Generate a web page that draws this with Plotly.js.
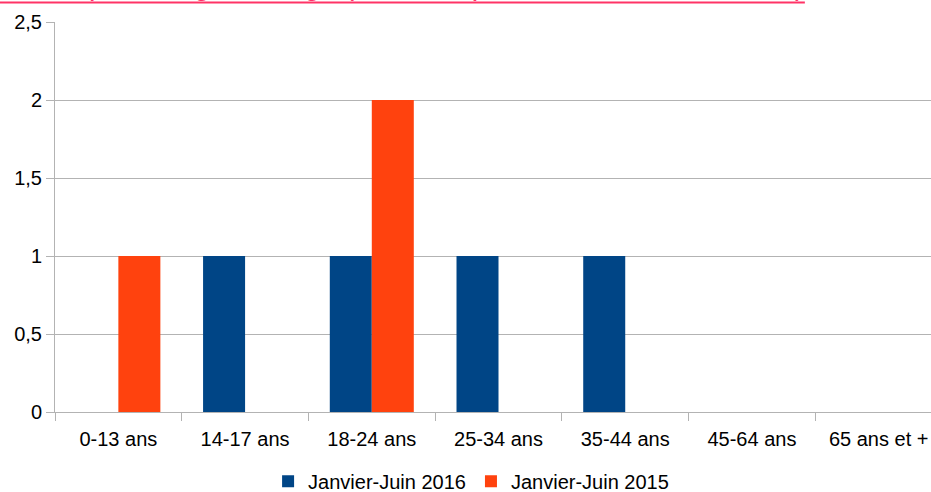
<!DOCTYPE html>
<html><head><meta charset="utf-8">
<script src="https://cdn.plot.ly/plotly-3.0.1.min.js"></script>
<style>html,body{margin:0;padding:0;background:#fff}</style>
</head><body>
<div id="chart" style="width:931px;height:492px"></div>
<script>
const categories = ["0-13 ans","14-17 ans","18-24 ans","25-34 ans","35-44 ans","45-64 ans","65 ans et +"];
const series2016 = [0,1,1,1,1,0,0];
const series2015 = [1,0,2,0,0,0,0];
const seriesNames = ["Janvier-Juin 2016","Janvier-Juin 2015"];
const titleText = "Victimes par catégorie d'âge (sur les 6 premiers mois de l'année)";

const font = {family:"Liberation Sans, Arial, sans-serif", size:20, color:"#000"};
const data = [
  {type:"bar", name:seriesNames[0], x:categories, y:series2016, marker:{color:"#004586"}},
  {type:"bar", name:seriesNames[1], x:categories, y:series2015, marker:{color:"#ff420e"}}
];
const layout = {
  width:931, height:492,
  margin:{l:55, r:0, t:22, b:80},
  font:font,
  barmode:"group", bargap:0.337, bargroupgap:0,
  separators:",.",
  showlegend:true,
  legend:{orientation:"h", x:0.506, xref:"container", xanchor:"center", y:0.022, yref:"container", yanchor:"middle",
          font:font, itemwidth:30, tracegroupgap:0},
  xaxis:{range:[-0.5,6.413], tickson:"boundaries", ticks:"outside", ticklen:8, tickcolor:"#b3b3b3",
         ticklabelstandoff:9,
         showline:true, linecolor:"#b3b3b3", showgrid:false, zeroline:false, tickfont:font, fixedrange:true, automargin:false},
  yaxis:{range:[0,2.5], dtick:0.5, ticks:"outside", ticklen:8, tickcolor:"#b3b3b3",
         showline:true, linecolor:"#b3b3b3", gridcolor:"#b3b3b3", zeroline:false, tickfont:font, automargin:false},
  annotations:[{text:titleText, xref:"paper", yref:"paper", x:0.858, xanchor:"right", y:1, yanchor:"bottom",
    yshift:18.5, showarrow:false, font:{family:"Liberation Sans, Arial, sans-serif", size:29, color:"#ff3366"}}],
  shapes:[{type:"line", xref:"paper", yref:"paper", x0:-0.07, x1:0.856, y0:1.05, y1:1.05, line:{color:"#ff3366", width:2}}],
  plot_bgcolor:"#fff", paper_bgcolor:"#fff"
};
Plotly.newPlot("chart", data, layout, {displayModeBar:false, staticPlot:true});
</script>
</body></html>
